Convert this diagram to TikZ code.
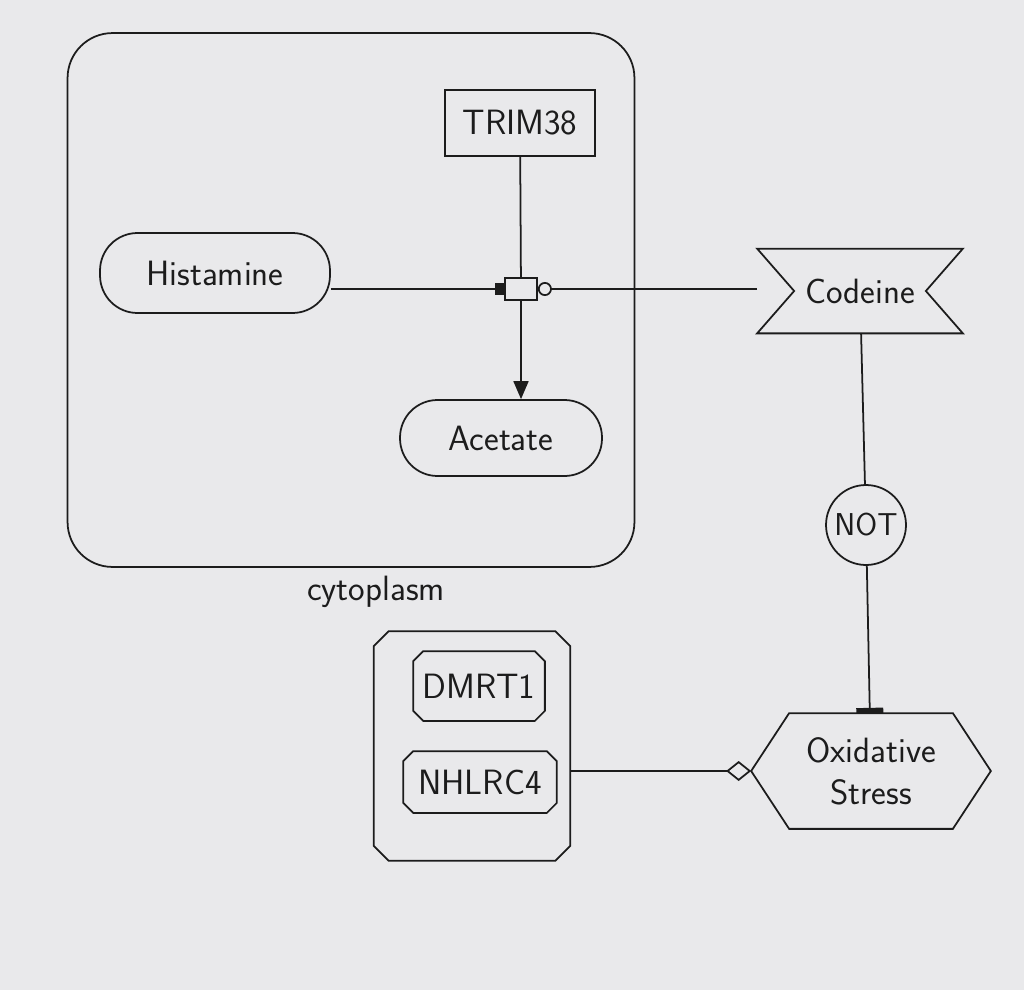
\documentclass[tikz,border=0pt]{standalone}
\usepackage{tikz}
\usetikzlibrary{arrows.meta,positioning}
\definecolor{paper}{HTML}{E9E9EB}
\definecolor{ink}{HTML}{1C1C1C}

% box with cut corners round a named node
\newcommand{\cutbox}[2]{%
  \draw ([xshift=#2]#1.north west) -- ([xshift=-#2]#1.north east)
    -- ([yshift=-#2]#1.north east) -- ([yshift=#2]#1.south east)
    -- ([xshift=-#2]#1.south east) -- ([xshift=#2]#1.south west)
    -- ([yshift=#2]#1.south west) -- ([yshift=-#2]#1.north west) -- cycle;}

\begin{document}
\begin{tikzpicture}[
    x=0.02cm, y=-0.02cm,
    line width=1pt,
    draw=ink,
    every node/.style = {
      font=\sffamily\fontsize{20}{24}\selectfont,
      text=ink,
      align=center,
      inner sep=0pt
    },
    compartment/.style = {draw, rounded corners=0.9cm},
    macro/.style = {draw, rectangle},
    simplechem/.style = {draw, rectangle, rounded corners=0.75cm},
    process/.style = {draw, rectangle, minimum width=0.64cm, minimum height=0.44cm},
    notgate/.style = {draw, circle, minimum size=1.6cm,
      font=\sffamily\fontsize{18}{22}\selectfont}
  ]
    \fill[paper] (0,0) rectangle (1024,990);

    % cytoplasm
    \node[compartment, minimum width=11.34cm, minimum height=10.68cm] (cyto) at (351,300) {};
    \node (cytolbl) at (376,592) {cytoplasm};

    \node[macro, minimum width=3cm, minimum height=1.32cm] (trim) at (520,123) {TRIM38};
    \node[simplechem, minimum width=4.6cm, minimum height=1.6cm] (hist) at (215,273) {Histamine};
    \node[process] (proc) at (521,289) {};
    \node[simplechem, minimum width=4.04cm, minimum height=1.52cm] (acet) at (501,438) {Acetate};

    % perturbing agent
    \node[minimum width=4.08cm, minimum height=1.66cm] (codeine) at (860,291) {Codeine};
    \draw (codeine.north west) -- (codeine.north east) -- ([xshift=-0.74cm]codeine.east)
      -- (codeine.south east) -- (codeine.south west) -- ([xshift=0.74cm]codeine.west) -- cycle;

    \node[notgate] (not) at (866,525) {NOT};

    % phenotype
    \node[minimum width=4.76cm, minimum height=2.28cm] (ox) at (871,771) {Oxidative\\Stress};
    \draw ([xshift=0.76cm]ox.north west) -- ([xshift=-0.76cm]ox.north east) -- (ox.east)
      -- ([xshift=-0.76cm]ox.south east) -- ([xshift=0.76cm]ox.south west) -- (ox.west) -- cycle;

    % complex
    \node[minimum width=3.9cm, minimum height=4.56cm] (cplx) at (472,746) {};
    \cutbox{cplx}{0.3cm}
    \node[minimum width=2.6cm, minimum height=1.36cm] (dmrt) at (479,686) {DMRT1};
    \cutbox{dmrt}{0.2cm}
    \node[minimum width=3.04cm, minimum height=1.2cm] (nhl) at (480,782) {NHLRC4};
    \cutbox{nhl}{0.2cm}

    % arcs
    \draw (trim) -- (proc);
    \draw[-{Square[length=5pt,width=6.5pt]}] (hist.east |- proc.west) -- (proc.west);
    \draw[-{Circle[open,length=0.28cm]}] (codeine.west |- proc.east) -- (proc.east);
    \draw[-{Triangle[length=0.36cm,width=0.3cm]}] (proc.south) -- (proc.south |- acet.north);
    \draw (codeine) -- (not);
    \draw[-{Bar[width=0.54cm,line width=3pt]}] (not) -- (ox);
    \draw[-{Diamond[open,length=0.5cm,width=0.4cm]}] (cplx.east |- ox.west) -- (ox.west);
\end{tikzpicture}
\end{document}
